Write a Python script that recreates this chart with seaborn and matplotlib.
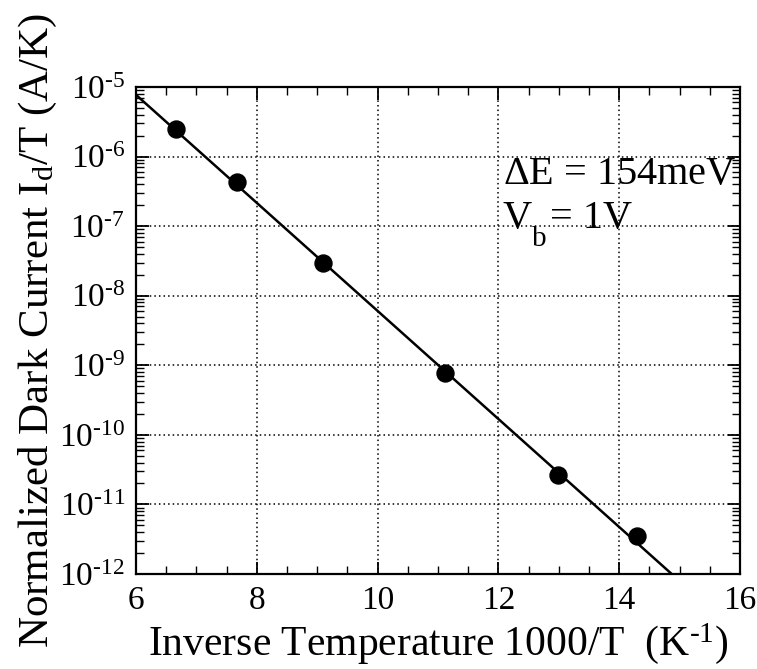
import matplotlib
matplotlib.use("Agg")
import matplotlib.pyplot as plt
import matplotlib.ticker as mticker
import seaborn as sns
import pandas as pd
import numpy as np

# data
inv_temp = [6.66, 7.68, 9.09, 11.12, 12.99, 14.29]
dark_current = [2.47e-6, 4.27e-7, 2.99e-8, 7.7e-10, 2.66e-11, 3.54e-12]
fit_x = [6.0, 14.87]
fit_y = [7.7e-6, 1.0e-12]

x_ticks = [6, 8, 10, 12, 14, 16]
annotation_top = r"$\Delta$E = 154meV"
annotation_bottom = ["V", "b", "= 1V"]

sns.set_theme(style="ticks")
plt.rcParams['font.family'] = ['Liberation Serif', 'DejaVu Serif']
plt.rcParams['mathtext.fontset'] = 'custom'
plt.rcParams['mathtext.rm'] = 'Liberation Serif'
plt.rcParams['mathtext.it'] = 'Liberation Serif:italic'
plt.rcParams['text.color'] = 'black'
plt.rcParams['axes.labelcolor'] = 'black'
plt.rcParams['xtick.color'] = 'black'
plt.rcParams['ytick.color'] = 'black'

fig = plt.figure(figsize=(7.57, 6.69), dpi=100)
ax = fig.add_axes([0.1797, 0.142, 0.7978, 0.728])

pts = pd.DataFrame({"x": inv_temp, "y": dark_current})
fit = pd.DataFrame({"x": fit_x, "y": fit_y})

sns.lineplot(data=fit, x="x", y="y", ax=ax, color="black", linewidth=1.8, zorder=3)
sns.scatterplot(data=pts, x="x", y="y", ax=ax, color="black", s=150, edgecolor="black", zorder=4)

ax.set_yscale("log")
ax.set_xlim(6, 16)
ax.set_ylim(1e-12, 1e-5)
ax.set_xticks(x_ticks)
ax.xaxis.set_minor_locator(mticker.MultipleLocator(0.5))
ax.yaxis.set_major_locator(mticker.LogLocator(base=10, numticks=20))
ax.yaxis.set_minor_locator(mticker.LogLocator(base=10, subs=np.arange(2, 10), numticks=20))
ax.yaxis.set_minor_formatter(mticker.NullFormatter())


def log_fmt(v, pos):
    e = int(round(np.log10(v)))
    return r"10$^{\text{-}%d}$" % (-e) if e < 0 else r"10$^{%d}$" % e


ax.yaxis.set_major_formatter(mticker.FuncFormatter(log_fmt))

ax.grid(True, which="major", color="black", linestyle=(0, (1, 2)), linewidth=1.1)
ax.tick_params(which="both", direction="in", top=True, right=True)
ax.tick_params(which="major", length=9, width=1.3, labelsize=24, pad=8)
ax.tick_params(which="minor", length=6, width=1.0)
for sp in ax.spines.values():
    sp.set_color("black")
    sp.set_linewidth(1.6)

ax.set_xlabel(r"Inverse Temperature 1000/T  (K$^{\text{-1}}$)", fontsize=30, labelpad=4)
ax.set_ylabel(r"Normalized Dark Current I$_{\mathrm{d}}$/T (A/K)", fontsize=31, labelpad=0)

ax.text(0.607, 0.80, annotation_top, transform=ax.transAxes, fontsize=29)
ax.text(0.607, 0.71, annotation_bottom[0], transform=ax.transAxes, fontsize=29)
ax.annotate(annotation_bottom[1], xy=(0.607, 0.71), xycoords="axes fraction",
            xytext=(21, -13), textcoords="offset points", fontsize=21)
ax.annotate(annotation_bottom[2], xy=(0.607, 0.71), xycoords="axes fraction",
            xytext=(34, 0), textcoords="offset points", fontsize=29)

fig.savefig("out.png", dpi=100)
